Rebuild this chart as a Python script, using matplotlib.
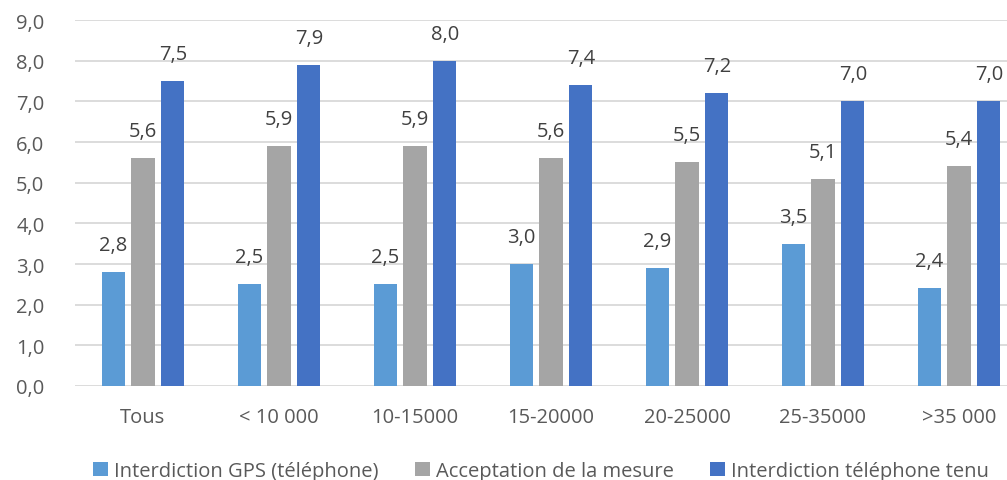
import numpy as np
import matplotlib.pyplot as plt

categories = ["Tous", "< 10 000", "10-15000", "15-20000", "20-25000", "25-35000", ">35 000"]
gps = [2.8, 2.5, 2.5, 3.0, 2.9, 3.5, 2.4]
acceptation = [5.6, 5.9, 5.9, 5.6, 5.5, 5.1, 5.4]
tel_tenu = [7.5, 7.9, 8.0, 7.4, 7.2, 7.0, 7.0]
series_names = ["Interdiction GPS (téléphone)", "Acceptation de la mesure", "Interdiction téléphone tenu"]
colors = ["#5B9BD5", "#A5A5A5", "#4472C4"]

plt.rcParams['font.family'] = ['Open Sans', 'DejaVu Sans']
txt = "#595959"
fs = 14.5

fig = plt.figure(figsize=(10.07, 4.81), dpi=100)
ax = fig.add_axes([75 / 1007, 94 / 481, 952 / 1007, 366 / 481])

x = np.arange(len(categories))
w = 0.17
step = 0.22
for i, (vals, name, c) in enumerate(zip([gps, acceptation, tel_tenu], series_names, colors)):
    pos = x + (i - 1) * step
    ax.bar(pos, vals, width=w, color=c, label=name, zorder=3)
    for p, v in zip(pos, vals):
        ax.text(p, v + 0.42, f"{v:.1f}".replace(".", ","), ha="center", va="bottom",
                fontsize=fs, color="#404040")

ax.set_xlim(-0.5, len(categories) - 0.5)
ax.set_ylim(0, 9)
ax.set_yticks(np.arange(0, 10, 1))
ax.set_yticklabels([f"{t:.1f}".replace(".", ",") for t in range(10)])
ax.set_xticks(x)
ax.set_xticklabels(categories)
ax.tick_params(axis="both", length=0, labelsize=fs, colors=txt)
ax.tick_params(axis="x", pad=15)
ax.tick_params(axis="y", pad=22)
ax.grid(axis="y", color="#D9D9D9", linewidth=1.3, zorder=0)
for s in ax.spines.values():
    s.set_visible(False)

fig.legend(loc="lower center", bbox_to_anchor=(0.537, -0.04), ncol=3, frameon=False,
           fontsize=fs, labelcolor=txt, handlelength=0.75, handleheight=0.75,
           handletextpad=0.3, columnspacing=1.8)

fig.savefig("out.png", dpi=100)
